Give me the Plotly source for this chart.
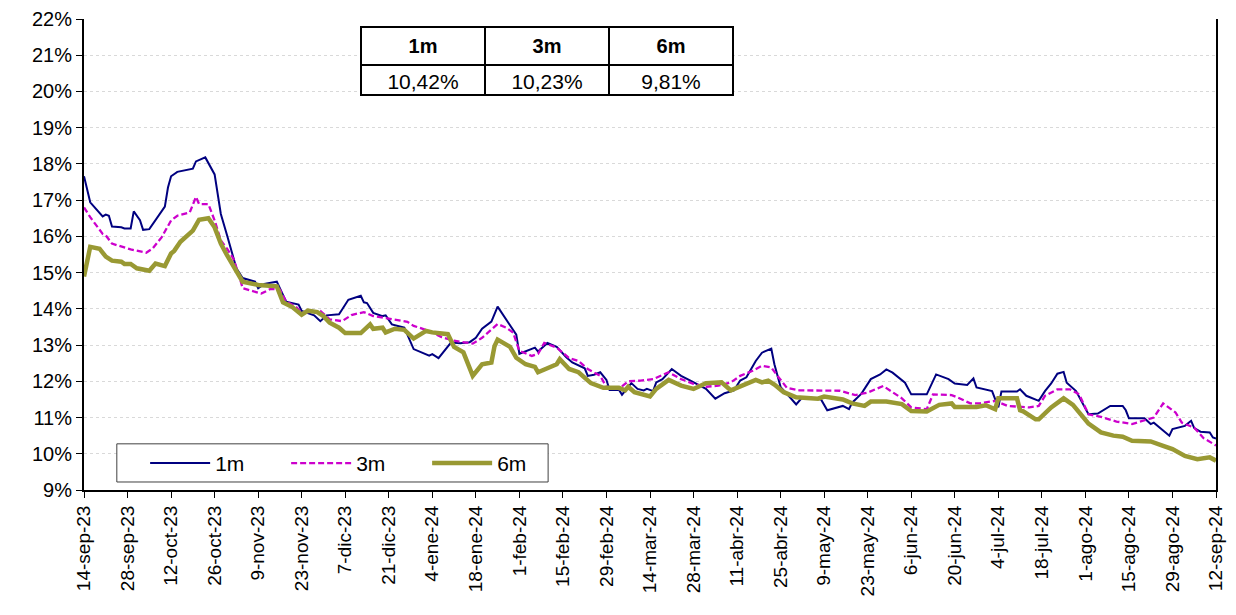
import pandas as pd
import plotly.graph_objects as go

# tasas 1m (fecha, valor %)
fechas_1m = ["2023-09-14", "2023-09-16", "2023-09-20", "2023-09-21", "2023-09-22", "2023-09-23",
             "2023-09-26", "2023-09-27", "2023-09-29", "2023-09-30", "2023-10-02", "2023-10-03",
             "2023-10-05", "2023-10-10", "2023-10-11", "2023-10-12", "2023-10-14", "2023-10-19",
             "2023-10-20", "2023-10-23", "2023-10-26", "2023-10-28", "2023-10-30", "2023-11-02",
             "2023-11-04", "2023-11-08", "2023-11-09", "2023-11-11", "2023-11-15", "2023-11-16",
             "2023-11-18", "2023-11-22", "2023-11-23", "2023-11-27", "2023-11-29", "2023-12-01",
             "2023-12-05", "2023-12-06", "2023-12-08", "2023-12-12", "2023-12-13", "2023-12-14",
             "2023-12-16", "2023-12-19", "2023-12-20", "2023-12-22", "2023-12-26", "2023-12-29",
             "2024-01-03", "2024-01-04", "2024-01-06", "2024-01-10", "2024-01-13", "2024-01-16",
             "2024-01-18", "2024-01-20", "2024-01-23", "2024-01-25", "2024-01-29", "2024-01-31",
             "2024-02-01", "2024-02-06", "2024-02-07", "2024-02-10", "2024-02-13", "2024-02-16",
             "2024-02-18", "2024-02-22", "2024-02-23", "2024-02-25", "2024-02-27", "2024-02-29",
             "2024-03-01", "2024-03-04", "2024-03-05", "2024-03-08", "2024-03-10", "2024-03-12",
             "2024-03-13", "2024-03-15", "2024-03-16", "2024-03-18", "2024-03-21", "2024-03-24",
             "2024-03-27", "2024-03-30", "2024-04-01", "2024-04-04", "2024-04-07", "2024-04-10",
             "2024-04-12", "2024-04-14", "2024-04-17", "2024-04-19", "2024-04-22", "2024-04-23",
             "2024-04-25", "2024-04-28", "2024-04-30", "2024-05-02", "2024-05-04", "2024-05-08",
             "2024-05-10", "2024-05-15", "2024-05-17", "2024-05-18", "2024-05-21", "2024-05-24",
             "2024-05-27", "2024-05-29", "2024-05-31", "2024-06-04", "2024-06-06", "2024-06-11",
             "2024-06-14", "2024-06-18", "2024-06-20", "2024-06-24", "2024-06-26", "2024-06-27",
             "2024-07-02", "2024-07-04", "2024-07-05", "2024-07-10", "2024-07-11", "2024-07-13",
             "2024-07-17", "2024-07-19", "2024-07-21", "2024-07-23", "2024-07-25", "2024-07-26",
             "2024-07-29", "2024-08-02", "2024-08-05", "2024-08-09", "2024-08-13", "2024-08-14",
             "2024-08-15", "2024-08-20", "2024-08-22", "2024-08-23", "2024-08-28", "2024-08-29",
             "2024-09-02", "2024-09-04", "2024-09-05", "2024-09-07", "2024-09-10", "2024-09-11",
             "2024-09-12"]
tasa_1m = [17.66, 16.94, 16.55, 16.60, 16.57, 16.27,
           16.25, 16.22, 16.22, 16.69, 16.45, 16.18,
           16.20, 16.82, 17.35, 17.66, 17.78, 17.87,
           18.07, 18.18, 17.71, 16.62, 16.03, 15.12,
           14.85, 14.75, 14.57, 14.69, 14.75, 14.57,
           14.20, 14.12, 13.94, 13.82, 13.66, 13.82,
           13.85, 13.98, 14.25, 14.36, 14.18, 14.16,
           13.89, 13.80, 13.82, 13.57, 13.48, 12.89,
           12.71, 12.75, 12.64, 13.07, 13.05, 13.08,
           13.20, 13.45, 13.65, 14.06, 13.56, 13.29,
           12.76, 12.93, 12.82, 13.06, 12.95, 12.67,
           12.52, 12.36, 12.15, 12.18, 12.25, 12.04,
           11.76, 11.77, 11.63, 11.95, 11.79, 11.75,
           11.79, 11.73, 11.97, 12.06, 12.34, 12.15,
           12.02, 11.88, 11.79, 11.52, 11.67, 11.75,
           12.02, 12.11, 12.56, 12.79, 12.90, 12.47,
           11.84, 11.56, 11.36, 11.56, 11.56, 11.50,
           11.20, 11.32, 11.23, 11.41, 11.66, 12.06,
           12.19, 12.33, 12.24, 11.96, 11.64, 11.64,
           12.19, 12.06, 11.94, 11.90, 12.08, 11.83,
           11.73, 11.28, 11.72, 11.72, 11.78, 11.60,
           11.46, 11.73, 11.94, 12.21, 12.26, 11.96,
           11.73, 11.09, 11.11, 11.32, 11.32, 11.20,
           10.98, 10.98, 10.82, 10.86, 10.50, 10.68,
           10.77, 10.91, 10.71, 10.61, 10.59, 10.45,
           10.42]

# tasas 3m
fechas_3m = ["2023-09-14", "2023-09-16", "2023-09-20", "2023-09-21", "2023-09-23", "2023-09-26",
             "2023-09-29", "2023-10-04", "2023-10-06", "2023-10-09", "2023-10-12", "2023-10-14",
             "2023-10-18", "2023-10-20", "2023-10-21", "2023-10-24", "2023-10-26", "2023-10-28",
             "2023-10-30", "2023-11-01", "2023-11-03", "2023-11-04", "2023-11-10", "2023-11-13",
             "2023-11-16", "2023-11-18", "2023-11-21", "2023-11-23", "2023-11-29", "2023-12-02",
             "2023-12-06", "2023-12-09", "2023-12-13", "2023-12-16", "2023-12-21", "2023-12-27",
             "2023-12-29", "2024-01-03", "2024-01-07", "2024-01-11", "2024-01-17", "2024-01-20",
             "2024-01-23", "2024-01-25", "2024-01-28", "2024-01-30", "2024-02-01", "2024-02-05",
             "2024-02-07", "2024-02-09", "2024-02-13", "2024-02-17", "2024-02-20", "2024-02-23",
             "2024-02-27", "2024-02-29", "2024-03-04", "2024-03-07", "2024-03-11", "2024-03-15",
             "2024-03-20", "2024-03-24", "2024-03-28", "2024-04-01", "2024-04-05", "2024-04-09",
             "2024-04-12", "2024-04-16", "2024-04-19", "2024-04-22", "2024-04-24", "2024-04-27",
             "2024-05-01", "2024-05-08", "2024-05-14", "2024-05-19", "2024-05-23", "2024-05-28",
             "2024-05-31", "2024-06-03", "2024-06-06", "2024-06-11", "2024-06-13", "2024-06-19",
             "2024-06-21", "2024-06-25", "2024-06-28", "2024-07-03", "2024-07-07", "2024-07-14",
             "2024-07-17", "2024-07-19", "2024-07-23", "2024-07-27", "2024-07-30", "2024-08-02",
             "2024-08-06", "2024-08-11", "2024-08-16", "2024-08-21", "2024-08-23", "2024-08-26",
             "2024-08-30", "2024-09-01", "2024-09-05", "2024-09-08", "2024-09-12"]
tasa_3m = [16.80, 16.53, 16.07, 16.03, 15.80, 15.71,
           15.64, 15.55, 15.66, 15.98, 16.44, 16.57,
           16.66, 17.09, 16.89, 16.89, 16.44, 15.89,
           15.66, 15.39, 14.89, 14.57, 14.42, 14.55,
           14.53, 14.20, 14.07, 13.89, 13.94, 13.71,
           13.66, 13.83, 13.91, 13.80, 13.73, 13.64,
           13.53, 13.39, 13.22, 13.12, 13.04, 13.20,
           13.43, 13.58, 13.47, 13.34, 12.84, 12.70,
           12.76, 13.06, 12.93, 12.64, 12.56, 12.34,
           12.15, 11.84, 11.79, 12.00, 12.02, 12.06,
           12.25, 12.06, 11.93, 11.85, 11.88, 11.97,
           12.15, 12.29, 12.43, 12.38, 12.15, 11.82,
           11.75, 11.75, 11.74, 11.62, 11.69, 11.87,
           11.69, 11.53, 11.28, 11.23, 11.64, 11.62,
           11.55, 11.39, 11.39, 11.46, 11.32, 11.28,
           11.32, 11.60, 11.78, 11.78, 11.64, 11.09,
           11.02, 10.89, 10.82, 10.95, 11.00, 11.39,
           11.14, 10.86, 10.72, 10.43, 10.23]

# tasas 6m
fechas_6m = ["2023-09-14", "2023-09-16", "2023-09-19", "2023-09-21", "2023-09-23", "2023-09-26",
             "2023-09-27", "2023-09-29", "2023-10-01", "2023-10-04", "2023-10-05", "2023-10-07",
             "2023-10-10", "2023-10-12", "2023-10-13", "2023-10-15", "2023-10-18", "2023-10-19",
             "2023-10-21", "2023-10-24", "2023-10-26", "2023-10-28", "2023-10-30", "2023-11-02",
             "2023-11-04", "2023-11-09", "2023-11-15", "2023-11-17", "2023-11-20", "2023-11-23",
             "2023-11-25", "2023-11-28", "2023-11-30", "2023-12-02", "2023-12-05", "2023-12-07",
             "2023-12-12", "2023-12-15", "2023-12-16", "2023-12-19", "2023-12-20", "2023-12-23",
             "2023-12-26", "2023-12-29", "2024-01-02", "2024-01-04", "2024-01-09", "2024-01-11",
             "2024-01-14", "2024-01-17", "2024-01-20", "2024-01-23", "2024-01-24", "2024-01-25",
             "2024-01-27", "2024-01-29", "2024-01-31", "2024-02-03", "2024-02-06", "2024-02-07",
             "2024-02-10", "2024-02-13", "2024-02-14", "2024-02-17", "2024-02-20", "2024-02-24",
             "2024-02-28", "2024-03-04", "2024-03-06", "2024-03-07", "2024-03-09", "2024-03-12",
             "2024-03-14", "2024-03-16", "2024-03-20", "2024-03-24", "2024-03-28", "2024-04-01",
             "2024-04-06", "2024-04-09", "2024-04-13", "2024-04-16", "2024-04-17", "2024-04-19",
             "2024-04-21", "2024-04-23", "2024-04-26", "2024-04-30", "2024-05-07", "2024-05-09",
             "2024-05-15", "2024-05-18", "2024-05-22", "2024-05-24", "2024-05-29", "2024-06-03",
             "2024-06-06", "2024-06-11", "2024-06-15", "2024-06-19", "2024-06-20", "2024-06-27",
             "2024-06-30", "2024-07-03", "2024-07-04", "2024-07-10", "2024-07-11", "2024-07-12",
             "2024-07-16", "2024-07-17", "2024-07-21", "2024-07-25", "2024-07-28", "2024-08-02",
             "2024-08-06", "2024-08-10", "2024-08-13", "2024-08-16", "2024-08-22", "2024-08-26",
             "2024-08-29", "2024-09-02", "2024-09-06", "2024-09-10", "2024-09-12"]
tasa_6m = [14.89, 15.71, 15.66, 15.44, 15.33, 15.30,
           15.24, 15.24, 15.12, 15.05, 15.05, 15.25,
           15.18, 15.53, 15.60, 15.85, 16.07, 16.16,
           16.46, 16.50, 16.25, 15.80, 15.48, 15.07,
           14.75, 14.66, 14.62, 14.18, 14.05, 13.84,
           13.95, 13.91, 13.80, 13.62, 13.48, 13.33,
           13.33, 13.57, 13.45, 13.48, 13.35, 13.45,
           13.42, 13.18, 13.39, 13.35, 13.30, 12.95,
           12.80, 12.15, 12.47, 12.52, 12.97, 13.15,
           13.04, 12.95, 12.65, 12.47, 12.40, 12.25,
           12.36, 12.47, 12.61, 12.34, 12.25, 11.95,
           11.82, 11.82, 11.75, 11.85, 11.70, 11.63,
           11.58, 11.79, 12.04, 11.88, 11.79, 11.95,
           11.97, 11.75, 11.88, 12.00, 12.04, 11.97,
           12.02, 11.91, 11.70, 11.56, 11.52, 11.58,
           11.50, 11.39, 11.32, 11.44, 11.44, 11.37,
           11.18, 11.17, 11.35, 11.39, 11.29, 11.29,
           11.34, 11.23, 11.53, 11.53, 11.20, 11.17,
           10.95, 10.95, 11.28, 11.53, 11.35, 10.83,
           10.59, 10.50, 10.47, 10.36, 10.34, 10.22,
           10.13, 9.94, 9.85, 9.90, 9.81]

meses = ["ene", "feb", "mar", "abr", "may", "jun", "jul", "ago", "sep", "oct", "nov", "dic"]
ticks_x = pd.date_range("2023-09-14", "2024-09-12", freq="14D")
ticks_txt = [f"{d.day}-{meses[d.month - 1]}-{d.strftime('%y')}" for d in ticks_x]

fuente = "Liberation Sans, Arial, sans-serif"

fig = go.Figure()
fig.add_trace(go.Scatter(x=pd.to_datetime(fechas_1m), y=tasa_1m, mode="lines", name="1m",
                         line=dict(color="#000080", width=2)))
fig.add_trace(go.Scatter(x=pd.to_datetime(fechas_3m), y=tasa_3m, mode="lines", name="3m",
                         line=dict(color="#CC00CC", width=2.3, dash="6px,3px")))
fig.add_trace(go.Scatter(x=pd.to_datetime(fechas_6m), y=tasa_6m, mode="lines", name="6m",
                         line=dict(color="#999933", width=4.5)))

# cuadro con el ultimo dato
ultimos = [tasa_1m[-1], tasa_3m[-1], tasa_6m[-1]]
fig.add_trace(go.Table(
    domain=dict(x=[0.2447, 0.574], y=[0.80, 0.983]),
    columnwidth=[1, 1, 1],
    header=dict(values=["<b>1m</b>", "<b>3m</b>", "<b>6m</b>"], height=30,
                fill_color="white", line=dict(color="black", width=1.5),
                font=dict(family=fuente, size=20, color="black"), align="center"),
    cells=dict(values=[[f"{v:.2f}%".replace(".", ",")] for v in ultimos], height=30,
               fill_color="white", line=dict(color="black", width=1.5),
               font=dict(family=fuente, size=21, color="black"), align="center"),
))

# caja de la leyenda
fig.add_shape(type="rect", xref="paper", yref="paper", x0=0.029, x1=0.41, y0=0.017, y1=0.098,
              line=dict(color="#404040", width=1), fillcolor="white", layer="above")

fig.update_layout(
    width=1220, height=600,
    margin=dict(l=76, r=12, t=11, b=118),
    plot_bgcolor="white", paper_bgcolor="white",
    font=dict(family=fuente, size=20, color="black"),
    showlegend=True,
    legend=dict(orientation="h", x=0.054, y=0.10, xanchor="left", yanchor="top",
                bgcolor="rgba(0,0,0,0)", borderwidth=0,
                font=dict(size=21), itemwidth=60, entrywidth=66),
)
fig.update_xaxes(type="date", range=["2023-09-14", "2024-09-12"],
                 tickvals=ticks_x, ticktext=ticks_txt, tickangle=-90,
                 tickfont=dict(size=19), ticks="outside", ticklen=6, tickcolor="black",
                 showline=True, linecolor="black", linewidth=2, mirror=False,
                 showgrid=False, zeroline=False, automargin=False,
                 ticklabeloverflow="allow")
fig.update_yaxes(range=[9, 22], dtick=1, ticksuffix="%", tickfont=dict(size=20),
                 ticks="outside", ticklen=6, tickcolor="black",
                 showline=True, linecolor="black", linewidth=2, mirror=True,
                 showgrid=True, gridcolor="#d9d9d9", griddash="dot", gridwidth=1,
                 zeroline=False, automargin=False, ticklabeloverflow="allow")

fig.write_html("out.html")
